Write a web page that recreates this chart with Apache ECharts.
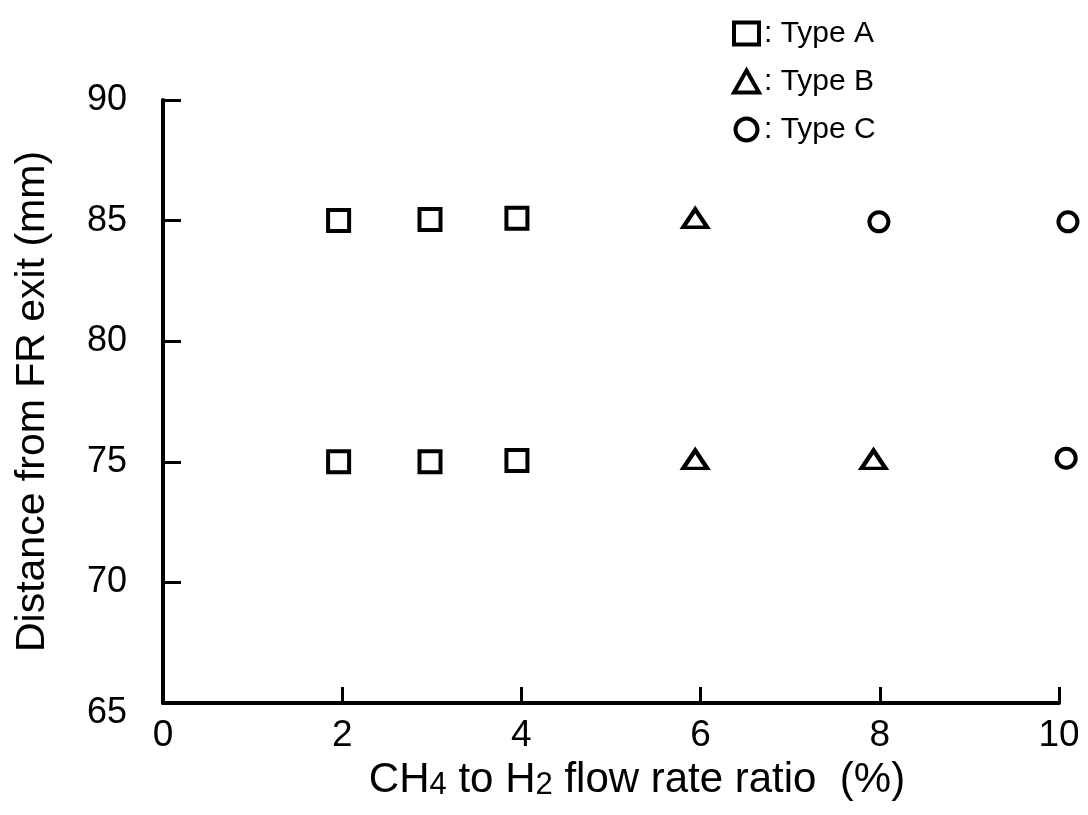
<!DOCTYPE html>
<html>
<head>
    <meta charset="utf-8">
    <title>Distance from FR exit</title>
    <script src="https://cdn.jsdelivr.net/npm/echarts@6/dist/echarts.min.js"></script>
</head>
<body style="margin:0;background:#fff;">
    <div id="main" style="width:1088px;height:815px;"></div>
    <script type="text/javascript">

// values: [CH4/H2 ratio (%), distance (mm)]
var typeA = [[1.96, 85.0], [2.98, 85.05], [3.95, 85.1], [1.96, 75.0], [2.98, 75.0], [3.95, 75.05]];
var typeB = [[5.94, 85.1], [5.94, 75.1], [7.93, 75.1]];
var typeC = [[7.99, 84.95], [10.1, 84.95], [10.08, 75.15]];
var seriesNames = ['Type A', 'Type B', 'Type C'];

var FONT = '"Liberation Sans", Arial, sans-serif';

var myChart = echarts.init(document.getElementById('main'));

var markStyle = {
    color: '#fff',
    borderColor: '#000',
    borderWidth: 4,
    opacity: 1
};

myChart.setOption({
    animation: false,
    textStyle: { fontFamily: FONT, color: '#000' },
    grid: {
        left: 163,
        right: 29,
        top: 100,
        bottom: 112,
        containLabel: false,
        outerBoundsMode: 'none'
    },
    legend: {
        orient: 'vertical',
        left: 727,
        top: 13,
        itemWidth: 25,
        itemHeight: 22,
        itemGap: 17,
        formatter: ': {name}',
        textStyle: { fontFamily: FONT, fontSize: 30, lineHeight: 31, color: '#000' },
        data: [
            { name: seriesNames[0], icon: 'rect', itemStyle: { color: '#fff', borderColor: '#000', borderWidth: 4 } },
            { name: seriesNames[1], icon: 'triangle', itemStyle: { color: '#fff', borderColor: '#000', borderWidth: 4 } },
            { name: seriesNames[2], icon: 'circle', itemStyle: { color: '#fff', borderColor: '#000', borderWidth: 4 } }
        ]
    },
    xAxis: {
        type: 'value',
        min: 0,
        max: 10,
        interval: 2,
        name: '{a|CH}{s|4}{a| to H}{s|2}{a| flow rate ratio  (%)}',
        nameLocation: 'middle',
        nameGap: 56,
        nameTextStyle: {
            padding: [0, 0, 0, 52],
            rich: {
                a: { fontFamily: FONT, fontSize: 42, color: '#000' },
                s: { fontFamily: FONT, fontSize: 31, color: '#000', padding: [10, 0, 0, 0] }
            }
        },
        axisLine: { lineStyle: { color: '#000', width: 4 } },
        axisTick: { inside: true, length: 16, lineStyle: { color: '#000', width: 3 } },
        axisLabel: { fontFamily: FONT, fontSize: 37, color: '#000', margin: 14 },
        splitLine: { show: false }
    },
    yAxis: {
        type: 'value',
        min: 65,
        max: 90,
        interval: 5,
        name: 'Distance from FR exit (mm)',
        nameLocation: 'middle',
        nameGap: 110,
        nameRotate: 90,
        nameTextStyle: { fontFamily: FONT, fontSize: 41, color: '#000' },
        axisLine: { lineStyle: { color: '#000', width: 4 } },
        axisTick: { inside: true, length: 18, lineStyle: { color: '#000', width: 3 } },
        axisLabel: {
            fontFamily: FONT,
            fontSize: 36,
            color: '#000',
            margin: 36,
            // the bottom label sits a little below its tick in the original
            formatter: function (v) { return v === 65 ? '{low|' + v + '}' : String(v); },
            rich: {
                low: { fontFamily: FONT, fontSize: 36, color: '#000', padding: [20, 0, 0, 0] }
            }
        },
        splitLine: { show: false }
    },
    series: [
        {
            name: seriesNames[0],
            type: 'scatter',
            symbol: 'rect',
            symbolSize: 21,
            clip: false,
            itemStyle: markStyle,
            data: typeA
        },
        {
            name: seriesNames[1],
            type: 'scatter',
            symbol: 'triangle',
            symbolSize: [24, 18],
            clip: false,
            itemStyle: markStyle,
            data: typeB
        },
        {
            name: seriesNames[2],
            type: 'scatter',
            symbol: 'circle',
            symbolSize: 19,
            clip: false,
            itemStyle: markStyle,
            data: typeC
        }
    ]
});
</script>
</body>
</html>
